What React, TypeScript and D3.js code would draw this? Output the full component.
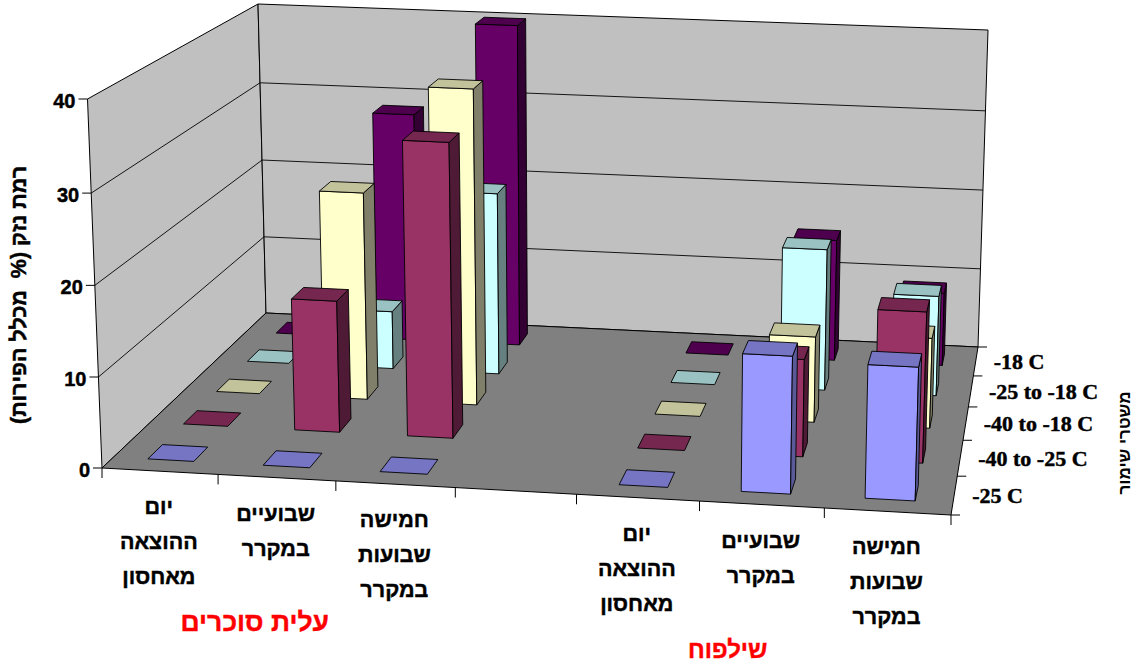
import React from "react";
import * as d3 from "d3";

// Storage regimes, front row first
const regimeLabels = ["-25 C", "-40 to -25 C", "-40 to -18 C", "-25 to -18 C", "-18 C"];
const regimeFill = ["#9999FF", "#993366", "#FFFFCC", "#CCFFFF", "#660066"];
const regimeTop = ["#7575C4", "#752750", "#C2C29B", "#9BC2C2", "#4E004E"];
const regimeSide = ["#5A5A99", "#4F1A35", "#80806A", "#668080", "#330033"];

// Damage level (%) per storage stage, one array per regime; slot 3 is the gap between the two defects
const minus25 = [0, 0, 0, 0, 0, 15, 14.5];
const minus40to25 = [0, 15, 33.5, 0, 0, 11, 17];
const minus40to18 = [0, 24.4, 37, 0, 0, 10, 10.5];
const minus25to18 = [0, 7, 22, 0, 0, 17, 12];
const minus18 = [0, 28.5, 40, 0, 0, 15, 9];
const regimeValues = [minus25, minus40to25, minus40to18, minus25to18, minus18];

const hasBars = [true, true, true, false, true, true, true];
const stageLines = [
  ["יום", "ההוצאה", "מאחסון"],
  ["שבועיים", "במקרר"],
  ["חמישה", "שבועות", "במקרר"],
  [],
  ["יום", "ההוצאה", "מאחסון"],
  ["שבועיים", "במקרר"],
  ["חמישה", "שבועות", "במקרר"],
];
const groupTitles = [
  { label: "עלית סוכרים", stage: 1 },
  { label: "שילפוח", stage: 5 },
];
const valueTicks = [0, 10, 20, 30, 40];
const yTitle = "רמת נזק (%  מכלל הפירות)";
const zTitle = "משטרי שימור";

type P = [number, number];

// Perspective mapping of the unit square onto a quadrilateral
function quadMap(p00: P, p10: P, p11: P, p01: P) {
  const [x0, y0] = p00, [x1, y1] = p10, [x2, y2] = p11, [x3, y3] = p01;
  const dx1 = x1 - x2, dx2 = x3 - x2, sx = x0 - x1 + x2 - x3;
  const dy1 = y1 - y2, dy2 = y3 - y2, sy = y0 - y1 + y2 - y3;
  const den = dx1 * dy2 - dx2 * dy1;
  const g = (sx * dy2 - dx2 * sy) / den;
  const h = (dx1 * sy - sx * dy1) / den;
  const a = x1 - x0 + g * x1, b = x3 - x0 + h * x3;
  const d = y1 - y0 + g * y1, e = y3 - y0 + h * y3;
  return (u: number, v: number): P => {
    const w = g * u + h * v + 1;
    return [(a * u + b * v + x0) / w, (d * u + e * v + y0) / w];
  };
}

const floorMap = quadMap([102, 468], [951, 515], [978, 347], [266, 313]);
const ceilMap = quadMap([87.5, 99], [962, 137], [988, 30], [258, 4]);

const xScale = d3.scaleLinear().domain([0, 7]).range([0, 1]);
const zScale = d3.scaleLinear().domain([0, 5]).range([0, 1]);
// The value axis is very slightly uneven along its height
const vScale = d3.scaleLinear().domain(valueTicks).range([0, 0.2466, 0.495, 0.745, 1]);

// Chart space: stage position, regime position, value
function project(x: number, z: number, value: number): P {
  const u = xScale(x);
  const bow = 4 * u * (1 - u);
  const f = floorMap(u - 0.003 * bow, zScale(z));
  const c = ceilMap(u + 0.002 * bow, zScale(z));
  const t = vScale(value);
  return [f[0] + (c[0] - f[0]) * t, f[1] + (c[1] - f[1]) * t];
}

const poly = (pts: P[]) => (d3.line()(pts) as string) + "Z";

const WIDTH_FRAC = 0.4;
const DEPTH_FRAC = 0.4;
const sans = "'Liberation Sans', sans-serif";
const serif = "'Liberation Serif', serif";
const heavy = { stroke: "currentColor", strokeWidth: 0.45 };
const titleStyle = [
  { dx: -22, dy: 153, size: 26.5 },
  { dx: -34, dy: 153, size: 24 },
];

function Bar({ stage, regime, value }: { stage: number; regime: number; value: number }) {
  const x0 = stage + (1 - WIDTH_FRAC) / 2, x1 = x0 + WIDTH_FRAC;
  const z0 = regime + (1 - DEPTH_FRAC) / 2, z1 = z0 + DEPTH_FRAC;
  const stroke = { stroke: "#000", strokeWidth: 0.9, strokeLinejoin: "round" as const };
  const top = poly([project(x0, z0, value), project(x1, z0, value), project(x1, z1, value), project(x0, z1, value)]);
  if (value === 0) return <path d={top} fill={regimeTop[regime]} {...stroke} />;
  return (
    <g>
      <path d={poly([project(x0, z0, 0), project(x1, z0, 0), project(x1, z0, value), project(x0, z0, value)])} fill={regimeFill[regime]} {...stroke} />
      <path d={poly([project(x1, z0, 0), project(x1, z1, 0), project(x1, z1, value), project(x1, z0, value)])} fill={regimeSide[regime]} {...stroke} />
      <path d={top} fill={regimeTop[regime]} {...stroke} />
    </g>
  );
}

export default function App() {
  const stages = d3.range(7);
  const regimes = d3.range(5);
  const frontXTicks = d3.range(8);
  return (
    <svg width={1139} height={668} style={{ position: "absolute", left: 0, top: 0, display: "block", background: "#fff", color: "#000" }}>
      {/* walls */}
      <path d={poly([project(0, 0, 0), project(0, 5, 0), project(0, 5, 40), project(0, 0, 40)])} fill="#C0C0C0" stroke="#000" strokeWidth={1} />
      <path d={poly([project(0, 5, 0), project(7, 5, 0), project(7, 5, 40), project(0, 5, 40)])} fill="#C0C0C0" stroke="#000" strokeWidth={1} />
      {/* gridlines */}
      {valueTicks.slice(1, -1).map((t) => (
        <path key={t} d={d3.line()([project(0, 0, t), project(0, 5, t), project(7, 5, t)]) as string} fill="none" stroke="#000" strokeWidth={0.9} />
      ))}
      {/* floor */}
      <path d={poly([project(0, 0, 0), project(7, 0, 0), project(7, 5, 0), project(0, 5, 0)])} fill="#808080" stroke="#000" strokeWidth={1} />

      {/* value axis */}
      {valueTicks.map((t) => {
        const [px, py] = project(0, 0, t);
        return (
          <g key={t}>
            <line x1={px - 9} x2={px} y1={py} y2={py} stroke="#000" />
            <text x={px - 12} y={py + 9} textAnchor="end" fontFamily={sans} fontWeight="bold" fontSize={20} {...heavy}>{t}</text>
          </g>
        );
      })}
      <text transform="translate(26,295) rotate(-90)" textAnchor="middle" direction="rtl" fontFamily={sans} fontWeight="bold" fontSize={21.5} style={{ whiteSpace: "pre" }} {...heavy}>{yTitle}</text>

      {/* stage ticks and labels */}
      {frontXTicks.map((i) => {
        const [px, py] = project(i, 0, 0);
        return <line key={i} x1={px} x2={px} y1={py} y2={py + 10} stroke="#000" />;
      })}
      {stages.map((s) => {
        const [px, py] = project(s + 0.5, 0, 0);
        return stageLines[s].map((line, i) => (
          <text key={i} x={px - 1} y={py + 43 + i * 35} textAnchor="middle" direction="rtl" fontFamily={sans} fontWeight="bold" fontSize={21.5} {...heavy}>{line}</text>
        ));
      })}
      {groupTitles.map((g, i) => {
        const [px, py] = project(g.stage + 0.5, 0, 0);
        const s = titleStyle[i];
        return (
          <text key={g.label} x={px + s.dx} y={py + s.dy} textAnchor="middle" direction="rtl" fontFamily={sans} fontWeight="bold" fontSize={s.size} fill="#FF0000" stroke="#FF0000" strokeWidth={0.4}>{g.label}</text>
        );
      })}

      {/* regime ticks and labels */}
      {d3.range(6).map((i) => {
        const [px, py] = project(7, i, 0);
        return <line key={i} x1={px} x2={px + 9} y1={py} y2={py} stroke="#000" />;
      })}
      {regimes.map((r) => {
        const [px, py] = project(7, r + 0.5, 0);
        return (
          <text key={r} x={px + 18} y={py + 8} fontFamily={serif} fontWeight="bold" fontSize={22} {...heavy}>{regimeLabels[r]}</text>
        );
      })}
      <text transform="translate(1130,443) rotate(-90)" textAnchor="middle" direction="rtl" fontFamily={sans} fontWeight="bold" fontSize={17}>{zTitle}</text>

      {/* bars, painted from the back row forward */}
      {[...regimes].reverse().map((r) =>
        stages.filter((s) => hasBars[s]).map((s) => (
          <Bar key={`${r}-${s}`} stage={s} regime={r} value={regimeValues[r][s]} />
        ))
      )}
    </svg>
  );
}
